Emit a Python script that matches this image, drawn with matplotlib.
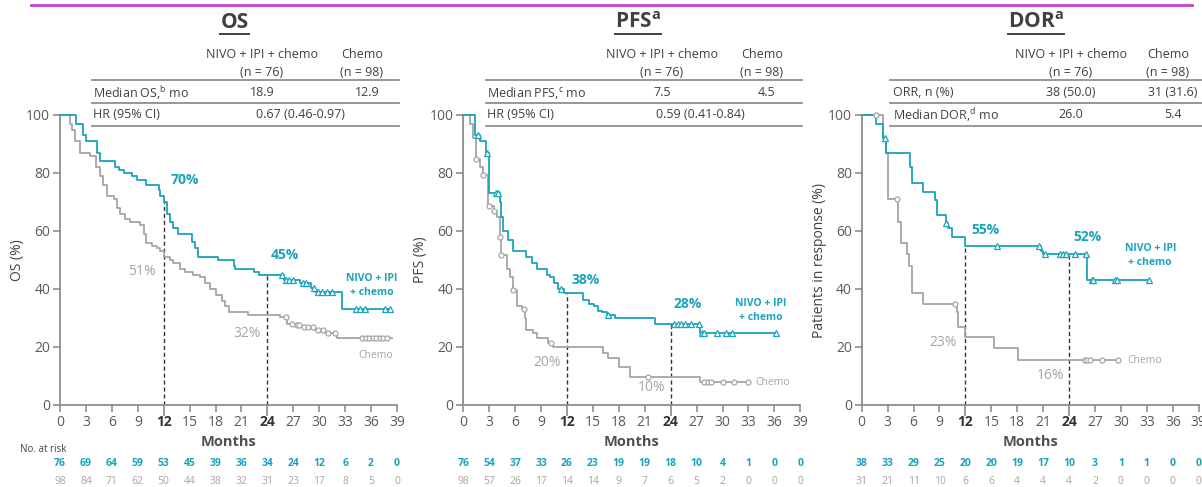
import numpy as np
import matplotlib
matplotlib.use("Agg")
import matplotlib.pyplot as plt
from matplotlib.lines import Line2D
from matplotlib.transforms import blended_transform_factory

plt.rcParams["font.family"] = ["Open Sans", "DejaVu Sans"]
plt.rcParams["mathtext.fontset"] = "custom"
plt.rcParams["mathtext.rm"] = "Open Sans"
plt.rcParams["mathtext.bf"] = "Open Sans:bold"

TEAL = "#1ba3bc"
GREY = "#a5a5a5"
DARK = "#404040"
AXIS = "#8c8c8c"
W, H = 1202, 487

month_ticks = list(range(0, 40, 3))

# ---- OS ----
os_nivo_t = [0, 1.9, 2.7, 3.0, 4.3, 4.6, 6.4, 6.8, 7.4, 8.3, 8.9, 10.0, 11.4, 11.6, 12.0, 12.4,
             12.7, 13.1, 13.7, 15.3, 15.6, 16.0, 18.3, 20.1, 20.3, 22.4, 23.0, 25.9, 27.8, 29.0, 29.5, 32.6]
os_nivo_s = [100, 97, 93, 91, 87, 84, 82, 81, 80, 79, 77.6, 76, 74, 72, 70, 66,
             63, 61, 59, 56.3, 54, 51, 50, 48, 47, 46, 44.8, 43.1, 42, 40.2, 39.1, 33]
os_nivo_end = 38.2
os_nivo_cens = [25.7, 26.1, 26.5, 27.0, 28.1, 28.5, 29.4, 29.8, 30.3, 30.9, 31.5, 34.3, 34.7, 35.3, 37.6, 38.2]

os_chemo_t = [0, 1.2, 1.4, 1.7, 2.3, 3.5, 4.2, 4.6, 5.0, 5.4, 6.2, 6.6, 7.0, 7.5, 8.1, 9.3, 9.7,
              10.0, 10.6, 11.2, 11.6, 12.0, 12.7, 13.1, 13.9, 14.5, 15.4, 16.2, 16.8, 17.4, 18.1,
              18.7, 19.1, 19.5, 21.8, 25.5, 26.3, 27.0, 27.8, 29.5, 30.7, 32.0]
os_chemo_s = [100, 97, 95, 91, 87, 86, 82, 79, 76, 72, 71, 68, 66, 64, 63, 62, 59,
              56, 55, 54, 53, 51, 50, 49, 47, 46, 45, 44, 42, 40, 38,
              36, 34, 32, 31.2, 30.5, 28, 27.5, 27, 26, 25, 23]
os_chemo_end = 38.4
os_chemo_cens = [26.2, 26.8, 27.4, 27.7, 28.2, 28.7, 29.3, 29.9, 30.4, 31.0, 31.8,
                 35.0, 35.4, 35.8, 36.2, 36.6, 37.0, 37.4, 37.8]

os_risk_nivo = [76, 69, 64, 59, 53, 45, 39, 36, 34, 24, 12, 6, 2, 0]
os_risk_chemo = [98, 84, 71, 62, 50, 44, 38, 32, 31, 23, 17, 8, 5, 0]

# ---- PFS ----
pfs_nivo_t = [0, 1.35, 1.9, 2.6, 3.0, 4.2, 4.4, 4.6, 5.2, 5.8, 7.3, 7.9, 8.5, 9.7, 10.0, 10.5,
              11.0, 11.6, 13.9, 14.5, 15.1, 15.6, 16.0, 16.6, 17.6, 22.2, 27.4]
pfs_nivo_s = [100, 93, 91, 87, 73, 70, 65, 60, 57, 53, 51, 49, 47, 45, 44, 42,
              40, 38.7, 36.2, 35, 34, 32.5, 32, 31, 29.9, 27.8, 24.7]
pfs_nivo_end = 36.3
pfs_nivo_cens = [1.7, 2.8, 3.8, 4.0, 11.3, 16.8, 24.4, 24.8, 25.2, 25.7, 26.3, 27.3,
                 27.6, 27.8, 29.4, 30.4, 31.1, 36.2]

pfs_chemo_t = [0, 0.8, 1.1, 1.5, 1.9, 2.3, 2.9, 3.5, 3.9, 4.2, 4.4, 5.0, 5.4, 5.8, 6.2, 6.8,
               7.1, 7.3, 8.1, 8.5, 9.8, 10.4, 16.2, 16.8, 18.0, 19.3, 27.4]
pfs_chemo_s = [100, 97, 92, 85, 82, 79.3, 68.6, 67, 65, 58, 51.7, 47, 44, 39.7, 34, 33,
               30, 25.9, 25, 23, 21.3, 20.1, 18, 16.1, 13.2, 9.8, 8]
pfs_chemo_end = 33.0
pfs_chemo_cens = [1.5, 2.3, 3.0, 3.6, 4.2, 4.4, 5.8, 7.0, 10.2, 21.4, 27.9, 28.3, 28.7, 30.0, 31.3, 33.0]

pfs_risk_nivo = [76, 54, 37, 33, 26, 23, 19, 19, 18, 10, 4, 1, 0, 0]
pfs_risk_chemo = [98, 57, 26, 17, 14, 14, 9, 7, 6, 5, 2, 0, 0, 0]

# ---- DOR ----
dor_nivo_t = [0, 1.7, 2.5, 2.8, 5.6, 5.8, 7.1, 8.5, 8.7, 9.7, 10.0, 10.4, 12.0, 20.7, 21.0, 26.1]
dor_nivo_s = [100, 97, 92, 87, 82, 76.4, 73.6, 70.7, 65.5, 62.6, 61, 58, 54.8, 53, 52, 43.1]
dor_nivo_end = 33.2
dor_nivo_cens = [2.7, 9.8, 15.6, 20.5, 21.2, 23.0, 23.3, 23.7, 24.7, 25.9, 26.6, 26.8, 29.3, 29.5, 33.2]

dor_chemo_t = [0, 2.5, 2.8, 3.0, 3.1, 4.2, 4.5, 5.2, 5.5, 5.8, 7.1, 11.0, 11.2, 12.0, 15.3, 18.1]
dor_chemo_s = [100, 92, 87, 80, 71, 63, 56, 52, 48, 38.5, 35, 32, 27, 23.6, 19.5, 15.5]
dor_chemo_end = 29.7
dor_chemo_cens = [1.7, 4.1, 10.8, 25.8, 26.1, 26.4, 27.8, 29.7]

dor_risk_nivo = [38, 33, 29, 25, 20, 20, 19, 17, 10, 3, 1, 1, 0, 0]
dor_risk_chemo = [31, 21, 11, 10, 6, 6, 4, 4, 4, 2, 0, 0, 0, 0]

landmarks = [12, 24]

panels = [
    dict(left=60, title="OS", ylabel="OS (%)",
         nivo=(os_nivo_t, os_nivo_s, os_nivo_end, os_nivo_cens),
         chemo=(os_chemo_t, os_chemo_s, os_chemo_end, os_chemo_cens),
         risk=(os_risk_nivo, os_risk_chemo),
         hdr_x=(262, 362), rule=(92, 399),
         rows=[("Median OS,$^{\\mathrm{b}}$ mo", "18.9", "12.9"), ("HR (95% CI)", "0.67 (0.46-0.97)", None)],
         row_x=93, hr_x=300,
         pct_nivo=[("70%", 14.5, 77.6), ("45%", 26.0, 51.7)],
         pct_chemo=[("51%", 9.5, 45.9), ("32%", 21.6, 24.8)],
         nivo_lab=(36.1, 41.2, "center"), chemo_lab=(34.5, 17.2)),
    dict(left=463.3, title="PFS$^{\\mathbf{a}}$", ylabel="PFS (%)",
         nivo=(pfs_nivo_t, pfs_nivo_s, pfs_nivo_end, pfs_nivo_cens),
         chemo=(pfs_chemo_t, pfs_chemo_s, pfs_chemo_end, pfs_chemo_cens),
         risk=(pfs_risk_nivo, pfs_risk_chemo),
         hdr_x=(662, 762), rule=(486, 802),
         rows=[("Median PFS,$^{\\mathrm{c}}$ mo", "7.5", "4.5"), ("HR (95% CI)", "0.59 (0.41-0.84)", None)],
         row_x=487, hr_x=700,
         pct_nivo=[("38%", 14.1, 43.1), ("28%", 26.0, 34.8)],
         pct_chemo=[("20%", 9.7, 14.8), ("10%", 21.8, 6.2)],
         nivo_lab=(34.4, 32.6, "center"), chemo_lab=(33.8, 7.9)),
    dict(left=861.7, title="DOR$^{\\mathbf{a}}$", ylabel="Patients in response (%)",
         nivo=(dor_nivo_t, dor_nivo_s, dor_nivo_end, dor_nivo_cens),
         chemo=(dor_chemo_t, dor_chemo_s, dor_chemo_end, dor_chemo_cens),
         risk=(dor_risk_nivo, dor_risk_chemo),
         hdr_x=(1071, 1168), rule=(890, 1202),
         rows=[("ORR, n (%)", "38 (50.0)", "31 (31.6)"), ("Median DOR,$^{\\mathrm{d}}$ mo", "26.0", "5.4")],
         row_x=893, hr_x=None,
         pct_nivo=[("55%", 14.3, 60.3), ("52%", 26.1, 57.9)],
         pct_chemo=[("23%", 9.4, 21.7), ("16%", 21.8, 10.3)],
         nivo_lab=(33.4, 51.5, "center"), chemo_lab=(30.8, 15.5)),
]


def fx(x):
    return x / W


def fy(y):
    return 1 - y / H


def step_value(t, s, m):
    return np.array(s)[np.searchsorted(t, m, side="right") - 1]


def km(ax, t, s, t_end, cens, color, marker, ms):
    ax.step(list(t) + [t_end], list(s) + [s[-1]], where="post", color=color, lw=1.3, clip_on=False, zorder=3)
    ax.plot(cens, step_value(t, s, cens), ls="none", marker=marker, ms=ms, mfc="white",
            mec=color, mew=0.9, clip_on=False, zorder=4)


fig = plt.figure(figsize=(W / 100, H / 100), dpi=100)
fig.add_artist(Line2D([fx(31), fx(1192)], [fy(5), fy(5)], color="#c63fc6", lw=2))

titles = []
for p in panels:
    ax = fig.add_axes([fx(p["left"]), fy(405), 337 / W, 290 / H])
    ax.set_xlim(0, 39)
    ax.set_ylim(0, 100)
    for side in ("top", "right"):
        ax.spines[side].set_visible(False)
    for side in ("left", "bottom"):
        ax.spines[side].set_color(AXIS)
        ax.spines[side].set_linewidth(1.3)
    ax.set_xticks(month_ticks)
    ax.set_yticks(range(0, 101, 20))
    ax.tick_params(direction="out", length=5, width=1.2, color=AXIS, labelsize=10,
                   labelcolor="#5a5a5a", pad=2)
    for tick, loc in zip(ax.xaxis.get_major_ticks(), month_ticks):
        if loc in landmarks:
            tick.tick1line.set_markersize(8)
            tick.tick1line.set_color("#555555")
            tick.label1.set_fontweight("bold")
            tick.label1.set_color("#333333")
    ax.set_ylabel(p["ylabel"], fontsize=10, color=DARK, labelpad=1)
    ax.set_xlabel("Months", fontsize=10.5, fontweight="bold", color="#505050", labelpad=4)

    nt, ns, ne, nc = p["nivo"]
    ct, cs, ce, cc = p["chemo"]
    km(ax, ct, cs, ce, cc, GREY, "o", 3.6)
    km(ax, nt, ns, ne, nc, TEAL, "^", 4.0)
    for m in landmarks:
        ax.plot([m, m], [0, step_value(nt, ns, m)], ls=(0, (3, 2)), color="#333333", lw=1.0, zorder=2)

    for lab, x, y in p["pct_nivo"]:
        ax.text(x, y, lab, color=TEAL, fontsize=10, fontweight="bold", ha="center", va="center")
    for lab, x, y in p["pct_chemo"]:
        ax.text(x, y, lab, color=GREY, fontsize=10, ha="center", va="center")
    lx, ly, lha = p["nivo_lab"]
    ax.text(lx, ly, "NIVO + IPI\n+ chemo", color=TEAL, fontsize=7.5, fontweight="bold",
            ha=lha, va="center", multialignment="center", linespacing=1.3)
    ax.text(p["chemo_lab"][0], p["chemo_lab"][1], "Chemo", color=GREY, fontsize=7.5, ha="left", va="center")

    # numbers at risk
    tr = blended_transform_factory(ax.transData, fig.transFigure)
    rn, rc = p["risk"]
    for m, a, b in zip(month_ticks, rn, rc):
        ax.text(m, fy(464), str(a), transform=tr, color=TEAL, fontsize=7.5, fontweight="bold",
                ha="center", va="center", clip_on=False)
        ax.text(m, fy(481), str(b), transform=tr, color=GREY, fontsize=7.5,
                ha="center", va="center", clip_on=False)

    # title
    t = fig.text(fx(p["left"] + 337 / 2 + 6), fy(22), p["title"], fontsize=15, fontweight="bold",
                 color=DARK, ha="center", va="center")
    titles.append(t)

    # table
    hx1, hx2 = p["hdr_x"]
    fig.text(fx(hx1), fy(54), "NIVO + IPI + chemo", fontsize=9, color=DARK, ha="center", va="center")
    fig.text(fx(hx1), fy(72), "(n = 76)", fontsize=9, color=DARK, ha="center", va="center")
    fig.text(fx(hx2), fy(54), "Chemo", fontsize=9, color=DARK, ha="center", va="center")
    fig.text(fx(hx2), fy(72), "(n = 98)", fontsize=9, color=DARK, ha="center", va="center")
    r0, r1 = p["rule"]
    for ry in (80, 103, 126):
        fig.add_artist(Line2D([fx(r0), fx(r1)], [fy(ry), fy(ry)], color="#8f8f8f", lw=1.3))
    for (lab, v1, v2), ry in zip(p["rows"], (93, 115)):
        fig.text(fx(p["row_x"]), fy(ry), lab, fontsize=9, color=DARK, ha="left", va="center")
        if v2 is None:
            fig.text(fx(p["hr_x"]), fy(ry), v1, fontsize=9, color=DARK, ha="center", va="center")
        else:
            fig.text(fx(hx1), fy(ry), v1, fontsize=9, color=DARK, ha="center", va="center")
            fig.text(fx(hx2 + 5), fy(ry), v2, fontsize=9, color=DARK, ha="center", va="center")

fig.text(fx(20), fy(450), "No. at risk", fontsize=7, color=DARK, ha="left", va="center")

# underline titles
fig.canvas.draw()
for t in titles:
    bb = t.get_window_extent()
    fig.add_artist(Line2D([bb.x0 / W, bb.x1 / W], [(bb.y0 - 1) / H, (bb.y0 - 1) / H], color=DARK, lw=1.4))

fig.savefig("out.png", dpi=100)
